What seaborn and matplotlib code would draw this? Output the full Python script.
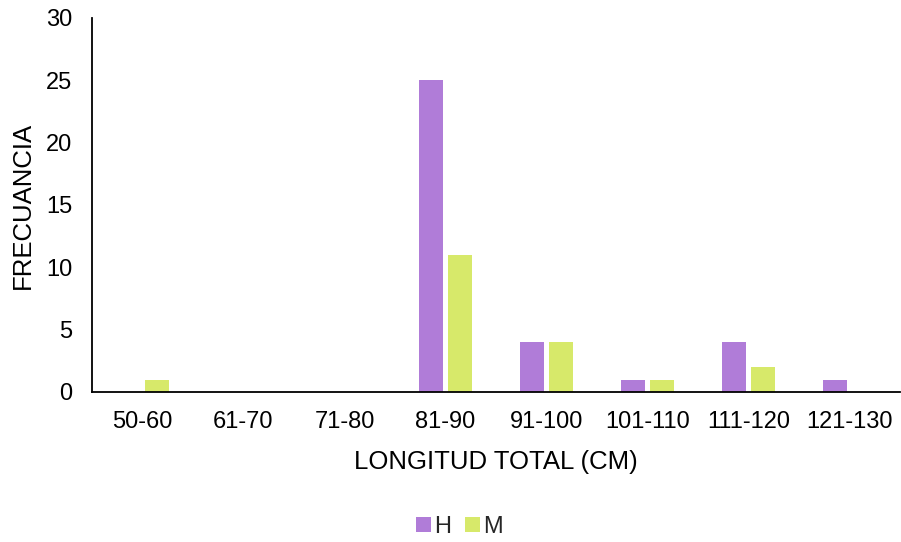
import matplotlib
matplotlib.use("Agg")
import matplotlib.pyplot as plt
import seaborn as sns
import pandas as pd

categories = ["50-60", "61-70", "71-80", "81-90", "91-100", "101-110", "111-120", "121-130"]
h_values = [0, 0, 0, 25, 4, 1, 4, 1]
m_values = [1, 0, 0, 11, 4, 1, 2, 0]
series = ["H", "M"]
colors = ["#B07CD8", "#D7E96A"]

df = pd.DataFrame({
    "cat": categories * 2,
    "val": h_values + m_values,
    "sex": ["H"] * len(categories) + ["M"] * len(categories),
})

sns.set_theme(style="white")
plt.rcParams['font.family'] = ['Liberation Sans', 'DejaVu Sans']

fig = plt.figure(figsize=(9.01, 5.42), dpi=100)
ax = fig.add_axes([0.102, 0.2768, 0.897, 0.69])
sns.barplot(data=df, x="cat", y="val", hue="sex", order=categories, hue_order=series,
            palette=colors, width=0.574, gap=0.2, ax=ax, saturation=1, legend=True,
            linewidth=0)

ax.set_ylim(0, 30)
ax.set_yticks([0, 5, 10, 15, 20, 25, 30])
ax.set_xlim(-0.5, len(categories) - 0.5)
ax.tick_params(axis="y", labelsize=17, colors="#000000", length=0, pad=14)
ax.tick_params(axis="x", labelsize=17, colors="#000000", length=0, pad=14)
ax.set_xlabel("LONGITUD TOTAL (CM)", fontsize=18.5, color="#000000", labelpad=12)
ax.set_ylabel("FRECUANCIA", fontsize=18.5, color="#000000", labelpad=8)
for s in ["top", "right"]:
    ax.spines[s].set_visible(False)
for s in ["left", "bottom"]:
    ax.spines[s].set_color("#000000")
    ax.spines[s].set_linewidth(1.3)

ax.legend(loc="center", bbox_to_anchor=(0.455, -0.36), ncol=2, frameon=False,
          fontsize=17, handlelength=0.6, handleheight=0.6, handletextpad=0.15,
          columnspacing=0.6)

fig.savefig("out.png", dpi=100)
